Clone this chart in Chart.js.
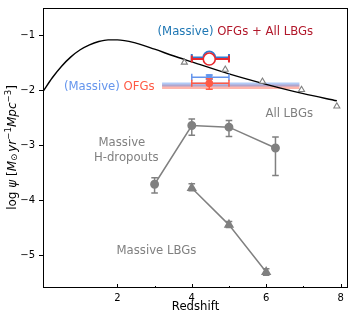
<!DOCTYPE html>
<html>
<head>
<meta charset="utf-8">
<script src="https://cdn.jsdelivr.net/npm/chart.js@4.4.1/dist/chart.umd.min.js"></script>
<style>
  html, body { margin: 0; padding: 0; background: #fff; }
  canvas { display: block; }
</style>
</head>
<body>
<canvas id="chart" width="357" height="323"></canvas>
<script>
// --- values ---
// Madau & Dickinson style cosmic SFRD curve
const mdZ = [0, 0.25, 0.5, 0.75, 1, 1.25, 1.5, 1.75, 2, 2.5, 3, 3.5, 4, 5, 6, 7, 7.9];
const mdLog = [-2.02, -1.77, -1.56, -1.39, -1.26, -1.17, -1.11, -1.08, -1.08, -1.14, -1.25, -1.37, -1.48, -1.70, -1.89, -2.06, -2.19];

// All LBGs (open triangles)
const allLbgZ = [3.8, 4.9, 5.9, 6.95, 7.9];
const allLbgY = [-1.49, -1.62, -1.84, -1.99, -2.29];

// Massive H-dropouts
const hdropZ = [3.0, 4.0, 5.0, 6.25];
const hdropY = [-3.71, -2.64, -2.67, -3.05];
const hdropLo = [-3.87, -2.82, -2.84, -3.55];
const hdropHi = [-3.59, -2.52, -2.55, -2.85];

// Massive LBGs
const mlbgZ = [4.0, 5.0, 6.0];
const mlbgY = [-3.78, -4.45, -5.31];
const mlbgLo = [-3.83, -4.50, -5.37];
const mlbgHi = [-3.70, -4.39, -5.25];

// (Massive) OFGs + All LBGs
const totZ = [4.47];
const totZLo = [4.0];
const totZHi = [5.0];
const totMassiveY = [-1.40];
const totMassiveLo = [-1.43];
const totMassiveHi = [-1.37];
const totAllY = [-1.43];
const totAllLo = [-1.46];
const totAllHi = [-1.40];

// (Massive) OFGs
const ofgZ = [4.47];
const ofgZLo = [4.0];
const ofgZHi = [5.0];
const ofgMassiveY = [-1.76];
const ofgMassiveLo = [-1.80];
const ofgMassiveHi = [-1.72];
const ofgAllY = [-1.87];
const ofgAllLo = [-1.98];
const ofgAllHi = [-1.79];

// shaded OFG ranges
const bandZ = [3.2, 6.9];
const bandMassiveTop = -1.855;
const bandMassiveBottom = -1.93;
const bandAllTop = -1.895;
const bandAllBottom = -1.975;

const GRAY = '#808080';
const BLUE = '#2f7bd0';
const RED = '#e8282e';
const LBLUE = '#6495ed';
const LRED = '#ff5a45';

const pts = (xs, ys) => xs.map((x, i) => ({ x: x, y: Array.isArray(ys) ? ys[i] : ys }));

// --- annotations (data coords) ---
const notes = [
    { z: 3.08, y: -0.94, align: 'left', parts: [['(Massive)', '#1f77b4'], [' OFGs + All LBGs', '#b2182b']] },
    { z: 3.0, y: -1.945, align: 'right', parts: [['(Massive)', LBLUE], [' OFGs', LRED]] },
    { z: 6.62, y: -2.435, align: 'center', parts: [['All LBGs', GRAY]] },
    { z: 2.12, y: -2.95, align: 'center', parts: [['Massive', GRAY]] },
    { z: 2.24, y: -3.24, align: 'center', parts: [['H-dropouts', GRAY]] },
    { z: 3.05, y: -4.93, align: 'center', parts: [['Massive LBGs', GRAY]] },
];

const FONT = 'DejaVu Sans';
const TXT = '11.7px ' + FONT;

function drawRich(ctx, segs, x, y, align) {
    let w = 0;
    segs.forEach(s => { ctx.font = s.font; w += ctx.measureText(s.text).width + (s.gap || 0); });
    let cx = align === 'left' ? x : align === 'right' ? x - w : x - w / 2;
    ctx.textAlign = 'left';
    ctx.textBaseline = 'middle';
    segs.forEach(s => {
        ctx.font = s.font;
        ctx.fillStyle = s.color || '#000';
        ctx.fillText(s.text, cx, y + (s.dy || 0));
        cx += ctx.measureText(s.text).width + (s.gap || 0);
    });
}

// error bars, drawn under each dataset's markers
const errorBars = {
    id: 'errorBars',
    beforeDatasetDraw(chart, args) {
        const ds = chart.data.datasets[args.index];
        const eb = ds.errorBars;
        if (!eb) return;
        const xs = chart.scales.x, ys = chart.scales.y;
        const ctx = chart.ctx;
        ctx.save();
        ctx.strokeStyle = eb.color;
        ctx.lineWidth = eb.width;
        ds.data.forEach((p, i) => {
            const px = xs.getPixelForValue(p.x);
            const py = ys.getPixelForValue(p.y);
            if (eb.yLo) {
                const a = ys.getPixelForValue(eb.yLo[i]), b = ys.getPixelForValue(eb.yHi[i]);
                ctx.beginPath();
                ctx.moveTo(px, a); ctx.lineTo(px, b);
                ctx.moveTo(px - eb.cap, a); ctx.lineTo(px + eb.cap, a);
                ctx.moveTo(px - eb.cap, b); ctx.lineTo(px + eb.cap, b);
                ctx.stroke();
            }
            if (eb.xLo) {
                const a = xs.getPixelForValue(eb.xLo[i]), b = xs.getPixelForValue(eb.xHi[i]);
                ctx.beginPath();
                ctx.moveTo(a, py); ctx.lineTo(b, py);
                ctx.moveTo(a, py - eb.cap); ctx.lineTo(a, py + eb.cap);
                ctx.moveTo(b, py - eb.cap); ctx.lineTo(b, py + eb.cap);
                ctx.stroke();
            }
        });
        ctx.restore();
    }
};

// frame, ticks, labels and annotations
const decor = {
    id: 'decor',
    afterDraw(chart) {
        const ctx = chart.ctx;
        const a = chart.chartArea;
        const xs = chart.scales.x, ys = chart.scales.y;
        ctx.save();
        ctx.strokeStyle = '#000';
        ctx.lineWidth = 1;
        ctx.strokeRect(a.left + 0.5, a.top + 0.5, a.right - a.left - 1, a.bottom - a.top - 1);

        ctx.beginPath();
        xs.ticks.forEach(t => {
            if (t.value <= xs.min) return;
            const px = Math.round(xs.getPixelForValue(t.value)) + 0.5;
            ctx.moveTo(px, a.bottom); ctx.lineTo(px, a.bottom - 4);
        });
        [3, 5, 7].forEach(v => {
            const px = Math.round(xs.getPixelForValue(v)) + 0.5;
            ctx.moveTo(px, a.bottom); ctx.lineTo(px, a.bottom - 2);
        });
        ys.ticks.forEach(t => {
            const py = Math.round(ys.getPixelForValue(t.value)) + 0.5;
            ctx.moveTo(a.left, py); ctx.lineTo(a.left - 4, py);
        });
        ctx.stroke();

        // x title
        ctx.fillStyle = '#000';
        ctx.font = TXT;
        ctx.textAlign = 'center';
        ctx.textBaseline = 'middle';
        ctx.fillText('Redshift', (a.left + a.right) / 2, 307);

        // y title
        ctx.save();
        ctx.translate(13, 147.5);
        ctx.rotate(-Math.PI / 2);
        const n = '12px ' + FONT, it = 'italic 12px ' + FONT, sm = '8.6px ' + FONT;
        drawRich(ctx, [
            { text: 'log ', font: n },
            { text: '\u03c8', font: it },
            { text: ' [', font: n },
            { text: 'M', font: it },
            { text: '\u2299', font: sm, dy: 2, gap: 2 },
            { text: 'yr', font: it },
            { text: '\u22121', font: sm, dy: -4 },
            { text: 'Mpc', font: it },
            { text: '\u22123', font: sm, dy: -4 },
            { text: ']', font: n },
        ], 0, 0, 'center');
        ctx.restore();

        // annotations
        notes.forEach(nt => {
            drawRich(ctx, nt.parts.map(p => ({ text: p[0], color: p[1], font: TXT })),
                xs.getPixelForValue(nt.z), ys.getPixelForValue(nt.y), nt.align);
        });
        ctx.restore();
    }
};

function noEdgePadding(s) {
    s.paddingTop = 0;
    s.paddingBottom = 0;
    s.paddingLeft = 0;
    s.paddingRight = 0;
}

new Chart(document.getElementById('chart'), {
    type: 'scatter',
    data: {
        datasets: [
            {   // OFGs + All LBGs (all)
                data: pts(totZ, totAllY), order: 0,
                pointStyle: 'circle', pointRadius: 6, borderColor: RED, backgroundColor: '#fff', pointBorderWidth: 1.6,
                errorBars: { xLo: totZLo, xHi: totZHi, yLo: totAllLo, yHi: totAllHi, color: RED, width: 2, cap: 3.5 },
            },
            {   // OFGs + All LBGs (massive)
                data: pts(totZ, totMassiveY), order: 1,
                pointStyle: 'circle', pointRadius: 6, borderColor: BLUE, backgroundColor: '#fff', pointBorderWidth: 1.6,
                errorBars: { xLo: totZLo, xHi: totZHi, yLo: totMassiveLo, yHi: totMassiveHi, color: BLUE, width: 2, cap: 3.5 },
            },
            {   // OFGs (all)
                data: pts(ofgZ, ofgAllY), order: 2,
                pointStyle: 'circle', pointRadius: 3.5, borderColor: LRED, backgroundColor: LRED,
                errorBars: { xLo: ofgZLo, xHi: ofgZHi, yLo: ofgAllLo, yHi: ofgAllHi, color: LRED, width: 1.5, cap: 3.5 },
            },
            {   // OFGs (massive)
                data: pts(ofgZ, ofgMassiveY), order: 3,
                pointStyle: 'rect', pointRadius: 3.5, borderColor: LBLUE, backgroundColor: LBLUE,
                errorBars: { xLo: ofgZLo, xHi: ofgZHi, yLo: ofgMassiveLo, yHi: ofgMassiveHi, color: LBLUE, width: 1.5, cap: 3.5 },
            },
            {   // Massive LBGs
                data: pts(mlbgZ, mlbgY), order: 4, showLine: true,
                borderColor: GRAY, borderWidth: 1.5, pointStyle: 'triangle', pointRadius: 4.5, pointBackgroundColor: GRAY,
                errorBars: { yLo: mlbgLo, yHi: mlbgHi, color: GRAY, width: 1.5, cap: 3.3 },
            },
            {   // Massive H-dropouts
                data: pts(hdropZ, hdropY), order: 5, showLine: true,
                borderColor: GRAY, borderWidth: 1.5, pointStyle: 'circle', pointRadius: 3.7, pointBackgroundColor: GRAY,
                errorBars: { yLo: hdropLo, yHi: hdropHi, color: GRAY, width: 1.5, cap: 3.3 },
            },
            {   // All LBGs
                data: pts(allLbgZ, allLbgY), order: 6,
                pointStyle: 'triangle', pointRadius: 3.5, borderColor: GRAY, backgroundColor: '#fff', pointBorderWidth: 1.1,
            },
            {   // SFRD curve
                data: pts(mdZ, mdLog), order: 7, showLine: true,
                borderColor: '#000', borderWidth: 1.4, pointRadius: 0, cubicInterpolationMode: 'monotone',
            },
            {   // massive OFG band
                data: pts(bandZ, bandMassiveTop), order: 8, showLine: true,
                borderWidth: 0, pointRadius: 0, fill: { value: bandMassiveBottom },
                backgroundColor: 'rgba(100,149,237,0.5)',
            },
            {   // all OFG band
                data: pts(bandZ, bandAllTop), order: 9, showLine: true,
                borderWidth: 0, pointRadius: 0, fill: { value: bandAllBottom },
                backgroundColor: 'rgba(255,90,69,0.45)',
            },
        ]
    },
    options: {
        responsive: false,
        animation: false,
        layout: { padding: { left: 0, right: 9, top: 8, bottom: 0 } },
        plugins: { legend: { display: false }, tooltip: { enabled: false } },
        scales: {
            x: {
                type: 'linear', min: 0, max: 8.2,
                grid: { display: false, drawTicks: false },
                border: { display: false },
                ticks: {
                    stepSize: 2, includeBounds: false, padding: 4, color: '#000',
                    font: { family: FONT, size: 10 },
                    callback: v => v === 0 ? '' : v,
                },
                afterFit: s => { s.height = 35; noEdgePadding(s); },
            },
            y: {
                type: 'linear', min: -5.6, max: -0.5,
                grid: { display: false, drawTicks: false },
                border: { display: false },
                ticks: {
                    stepSize: 1, includeBounds: false, padding: 8, color: '#000',
                    font: { family: FONT, size: 10 },
                    callback: v => '\u2212' + Math.abs(v),
                },
                afterFit: s => { s.width = 43; noEdgePadding(s); },
            },
        },
    },
    plugins: [errorBars, decor],
});
</script>
</body>
</html>
